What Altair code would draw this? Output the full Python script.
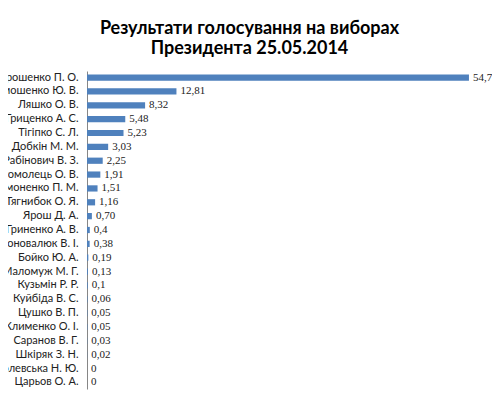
import altair as alt
import pandas as pd

names = ["Порошенко П. О.", "Тимошенко Ю. В.", "Ляшко О. В.", "Гриценко А. С.",
         "Тігіпко С. Л.", "Добкін М. М.", "Рабінович В. З.", "Богомолець О. В.",
         "Симоненко П. М.", "Тягнибок О. Я.", "Ярош Д. А.", "Гриненко А. В.",
         "Коновалюк В. І.", "Бойко Ю. А.", "Маломуж М. Г.", "Кузьмін Р. Р.",
         "Куйбіда В. С.", "Цушко В. П.", "Клименко О. І.", "Саранов В. Г.",
         "Шкіряк З. Н.", "Королевська Н. Ю.", "Царьов О. А."]
values = [54.7, 12.81, 8.32, 5.48, 5.23, 3.03, 2.25, 1.91, 1.51, 1.16, 0.70, 0.4,
          0.38, 0.19, 0.13, 0.1, 0.06, 0.05, 0.05, 0.03, 0.02, 0, 0]
labels = ["54,7", "12,81", "8,32", "5,48", "5,23", "3,03", "2,25", "1,91", "1,51",
          "1,16", "0,70", "0,4", "0,38", "0,19", "0,13", "0,1", "0,06", "0,05",
          "0,05", "0,03", "0,02", "0", "0"]

df = pd.DataFrame({"name": names, "value": values, "label": labels})

y = alt.Y("name:N", sort=names, title=None,
          scale=alt.Scale(paddingInner=0.55, paddingOuter=0.25),
          axis=alt.Axis(domainColor="#868686", ticks=False, labelPadding=9,
                        labelFont="Lato", labelFontSize=11,
                        labelColor="#222222", labelLimit=300))
x = alt.X("value:Q", title=None, axis=None, scale=alt.Scale(domain=[0, 58]))

bars = alt.Chart(df).mark_bar(color="#4F81BD").encode(x=x, y=y)
text = alt.Chart(df).mark_text(align="left", baseline="middle", dx=4,
                               font="Liberation Serif", fontSize=11,
                               color="#222222").encode(x=x, y=y, text="label:N")

chart = (bars + text).properties(
    width=405, height=318,
    padding={"left": 79, "top": 63, "right": 0, "bottom": 3},
    autosize=alt.AutoSizeParams(type="none"),
    title=alt.TitleParams(["Результати голосування на виборах", "Президента 25.05.2014"],
                          font="Lato", fontSize=18, fontWeight="bold",
                          color="#000000", anchor="middle", dx=-40, offset=13,
                          lineHeight=20),
).configure_view(stroke=None)

chart.save("out.html", embed_options={"renderer": "svg", "actions": False})
